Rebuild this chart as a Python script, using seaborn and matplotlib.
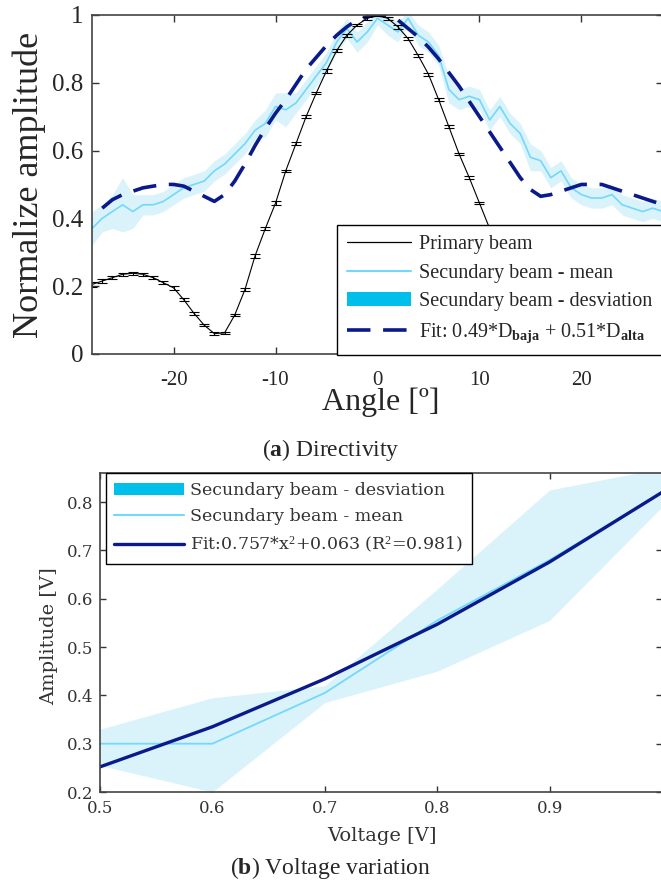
import matplotlib
matplotlib.use("Agg")
import matplotlib.pyplot as plt
import seaborn as sns
import pandas as pd
from matplotlib.lines import Line2D
from matplotlib.patches import Patch

# ---- (a) Directivity data ----
angles = list(range(-28, 29))
primary = [0.205, 0.215, 0.225, 0.235, 0.238, 0.235, 0.225, 0.21, 0.195, 0.16,
           0.12, 0.085, 0.06, 0.062, 0.115, 0.19, 0.29, 0.37, 0.445, 0.54,
           0.62, 0.70, 0.77, 0.835, 0.895, 0.94, 0.97, 0.99, 1.0, 0.99,
           0.965, 0.93, 0.88, 0.825, 0.75, 0.67, 0.59, 0.52, 0.445, 0.37,
           0.29, 0.2, 0.12, 0.07, 0.06, 0.085, 0.12, 0.16, 0.195, 0.21,
           0.225, 0.235, 0.238, 0.235, 0.225, 0.215, 0.205]
primary_err = [0.008, 0.006, 0.004, 0.004, 0.004, 0.005, 0.004, 0.004, 0.005, 0.004,
               0.004, 0.004, 0.004, 0.004, 0.004, 0.005, 0.006, 0.005, 0.005, 0.004,
               0.004, 0.004, 0.004, 0.005, 0.004, 0.004, 0.004, 0.004, 0.004, 0.004,
               0.006, 0.004, 0.004, 0.004, 0.005, 0.004, 0.004, 0.004, 0.004, 0.004,
               0.004, 0.004, 0.004, 0.004, 0.004, 0.004, 0.004, 0.004, 0.004, 0.004,
               0.004, 0.004, 0.004, 0.004, 0.004, 0.004, 0.004]
sec_mean = [0.37, 0.40, 0.42, 0.44, 0.42, 0.44, 0.44, 0.45, 0.47, 0.49,
            0.50, 0.51, 0.54, 0.56, 0.59, 0.62, 0.66, 0.68, 0.73, 0.72,
            0.74, 0.78, 0.82, 0.86, 0.92, 0.96, 0.92, 0.95, 0.99, 0.97,
            0.95, 0.99, 0.94, 0.92, 0.88, 0.78, 0.75, 0.76, 0.75, 0.69,
            0.73, 0.68, 0.65, 0.58, 0.57, 0.52, 0.54, 0.49, 0.47, 0.46,
            0.46, 0.47, 0.44, 0.43, 0.42, 0.43, 0.42]
sec_std = [0.05, 0.04, 0.05, 0.08, 0.05, 0.03, 0.03, 0.03, 0.03, 0.03,
           0.03, 0.03, 0.03, 0.03, 0.03, 0.03, 0.03, 0.04, 0.04, 0.05,
           0.03, 0.03, 0.03, 0.03, 0.03, 0.03, 0.03, 0.03, 0.02, 0.03,
           0.03, 0.02, 0.03, 0.03, 0.03, 0.04, 0.03, 0.03, 0.03, 0.03,
           0.03, 0.03, 0.03, 0.04, 0.03, 0.03, 0.03, 0.03, 0.03, 0.03,
           0.03, 0.03, 0.03, 0.03, 0.03, 0.03, 0.03]
fit_angles = list(range(-27, 29))
fit_dir = [0.43, 0.455, 0.47, 0.48, 0.49, 0.495, 0.50, 0.50, 0.495, 0.48,
           0.465, 0.45, 0.47, 0.51, 0.56, 0.615, 0.665, 0.71, 0.75, 0.795,
           0.84, 0.875, 0.91, 0.94, 0.965, 0.985, 0.995, 1.0, 0.995, 0.985,
           0.96, 0.935, 0.905, 0.87, 0.83, 0.79, 0.745, 0.70, 0.655, 0.61,
           0.565, 0.52, 0.485, 0.465, 0.47, 0.48, 0.49, 0.50, 0.50, 0.50,
           0.49, 0.48, 0.47, 0.46, 0.45, 0.44]

# ---- (b) Voltage variation data ----
voltage = [0.5, 0.6, 0.7, 0.8, 0.9, 1.0]
volt_mean = [0.30, 0.30, 0.405, 0.555, 0.68, 0.82]
volt_low = [0.255, 0.20, 0.385, 0.45, 0.555, 0.79]
volt_high = [0.33, 0.395, 0.42, 0.62, 0.825, 0.87]
volt_fit = [0.252, 0.335, 0.434, 0.547, 0.676, 0.820]

BAND = "#daf3fa"
PATCH = "#00bfea"
MEAN = "#72d8fc"
NAVY = "#0a1a8a"

sns.set_style("ticks")
plt.rcParams["font.family"] = ["Liberation Serif", "DejaVu Serif"]
plt.rcParams["mathtext.fontset"] = "custom"
plt.rcParams["mathtext.rm"] = "Liberation Serif"
plt.rcParams["mathtext.bf"] = "Liberation Serif:bold"
plt.rcParams["mathtext.it"] = "Liberation Serif:italic"
plt.rcParams["axes.unicode_minus"] = False

fig = plt.figure(figsize=(6.61, 8.88), dpi=100)

# ---------------- top panel ----------------
ax1 = fig.add_axes([0.1392, 0.6014, 0.8638, 0.3818])
df_dir = pd.DataFrame({"angle": angles, "mean": sec_mean, "std": sec_std})
ax1.fill_between(df_dir["angle"], df_dir["mean"] - df_dir["std"],
                 df_dir["mean"] + df_dir["std"], color=BAND, lw=0)
sns.lineplot(data=df_dir, x="angle", y="mean", color=MEAN, lw=1.2, ax=ax1,
             errorbar=None)
sns.lineplot(x=fit_angles, y=fit_dir, color=NAVY, lw=2.6, ax=ax1, errorbar=None)
ax1.lines[-1].set_dashes((6.5, 3.5))
ax1.errorbar(angles, primary, yerr=primary_err, color="black", lw=0.8,
             elinewidth=0.8, capsize=3.5, capthick=0.8)

ax1.set_xlim(-28, 28)
ax1.set_ylim(0, 1)
ax1.set_xticks([-20, -10, 0, 10, 20])
ax1.set_yticks([0, 0.2, 0.4, 0.6, 0.8, 1])
ax1.set_yticklabels(["0", "0.2", "0.4", "0.6", "0.8", "1"])
ax1.tick_params(axis="both", direction="in", top=True, right=True, length=5,
                color="#333333", width=1)
ax1.tick_params(axis="x", labelsize=15, pad=12)
ax1.tick_params(axis="y", labelsize=18, pad=6)
for s in ax1.spines.values():
    s.set_color("#444444")
    s.set_linewidth(1.2)
ax1.set_xlabel("Angle [º]", fontsize=23)
ax1.set_ylabel("Normalize amplitude", fontsize=26)
ax1.xaxis.set_label_coords(0.506, -0.1)
ax1.yaxis.set_label_coords(-0.08, 0.5)

h1 = [Line2D([], [], color="black", lw=0.9),
      Line2D([], [], color=MEAN, lw=1.5),
      Patch(facecolor=PATCH, edgecolor="none"),
      Line2D([], [], color=NAVY, lw=2.6, dashes=(6.5, 3.5))]
l1 = ["Primary beam", "Secundary beam - mean", "Secundary beam - desviation",
      r"Fit: 0.49*D$_{\mathbf{baja}}$ + 0.51*D$_{\mathbf{alta}}$"]
leg1 = ax1.legend(h1, l1, loc="upper left", bbox_to_anchor=(0.429, 0.381),
                  fontsize=14.5, frameon=True, fancybox=False, framealpha=1,
                  edgecolor="black", handlelength=3.2, handletextpad=0.35,
                  borderpad=0.5, labelspacing=0.48, borderaxespad=0)
leg1.get_frame().set_linewidth(1.0)
leg1.set_zorder(10)

fig.text(0.5, 1 - 450 / 888, r"($\mathbf{a}$) Directivity", ha="center",
         va="center", fontsize=17)

# ---------------- bottom panel ----------------
ax2 = fig.add_axes([0.1513, 0.1081, 0.8502, 0.3592])
df_v = pd.DataFrame({"voltage": voltage, "mean": volt_mean, "low": volt_low,
                     "high": volt_high, "fit": volt_fit})
ax2.fill_between(df_v["voltage"], df_v["low"], df_v["high"], color=BAND, lw=0)
sns.lineplot(data=df_v, x="voltage", y="mean", color=MEAN, lw=1.3, ax=ax2,
             errorbar=None)
sns.lineplot(data=df_v, x="voltage", y="fit", color=NAVY, lw=2.4, ax=ax2,
             errorbar=None)

serif2 = ["DejaVu Serif"]
ax2.set_xlim(0.5, 1.0)
ax2.set_ylim(0.2, 0.86)
ax2.set_xticks([0.5, 0.6, 0.7, 0.8, 0.9])
ax2.set_yticks([0.2, 0.3, 0.4, 0.5, 0.6, 0.7, 0.8])
ax2.tick_params(axis="both", direction="in", top=True, right=True, length=4,
                color="#333333", width=1, labelsize=12, labelcolor="#333333")
ax2.tick_params(axis="x", pad=6)
ax2.tick_params(axis="y", pad=5)
for lab in ax2.get_xticklabels() + ax2.get_yticklabels():
    lab.set_family(serif2)
for s in ax2.spines.values():
    s.set_color("#444444")
    s.set_linewidth(1.2)
ax2.set_xlabel("Voltage [V]", fontsize=14, family=serif2, color="#333333")
ax2.set_ylabel("Amplitude [V]", fontsize=14, family=serif2, color="#333333")
ax2.xaxis.set_label_coords(0.502, -0.11)
ax2.yaxis.set_label_coords(-0.075, 0.49)

h2 = [Patch(facecolor=PATCH, edgecolor="none"),
      Line2D([], [], color=MEAN, lw=1.5),
      Line2D([], [], color=NAVY, lw=2.4)]
l2 = ["Secundary beam - desviation", "Secundary beam - mean",
      r"Fit:0.757*x$^2$+0.063 (R$^2$=0.981)"]
leg2 = ax2.legend(h2, l2, loc="upper left", bbox_to_anchor=(0.01, 1.0),
                  prop={"family": serif2, "size": 12.5}, frameon=True,
                  fancybox=False, framealpha=1, edgecolor="black",
                  handlelength=4.0, handletextpad=0.35, borderpad=0.5,
                  labelspacing=0.55, borderaxespad=0)
leg2.get_frame().set_linewidth(1.0)
for t in leg2.get_texts():
    t.set_color("#333333")

fig.text(0.5, 1 - 868 / 888, r"($\mathbf{b}$) Voltage variation", ha="center",
         va="center", fontsize=17)

fig.savefig("out.png", dpi=100)
